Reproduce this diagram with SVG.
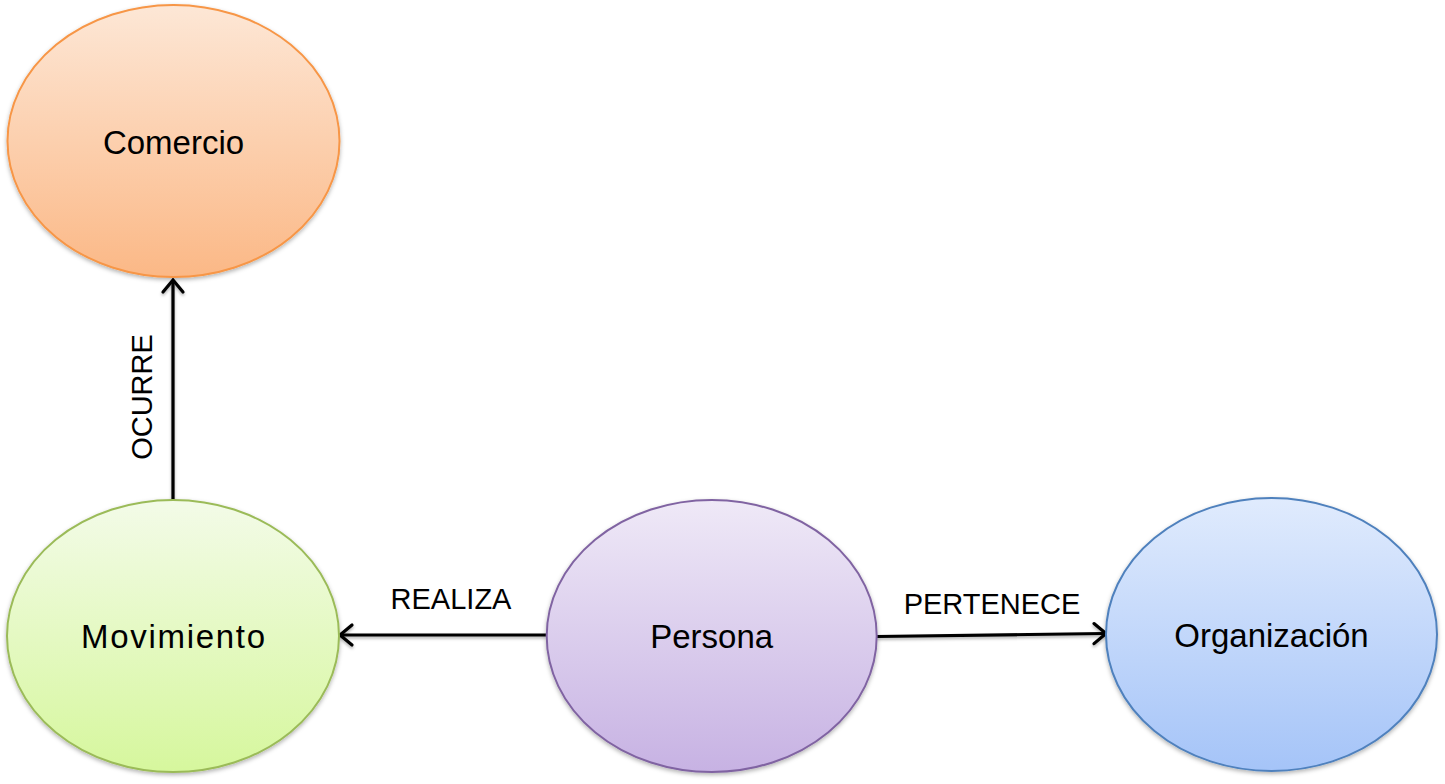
<svg xmlns="http://www.w3.org/2000/svg" width="1445" height="784" viewBox="0 0 1445 784">
<style>
.node{stroke-width:2;filter:url(#sh)}
.nt{font-family:"Liberation Sans",Arial,sans-serif;font-size:33px;fill:#000;text-anchor:middle}
.lt{font-family:"Liberation Sans",Arial,sans-serif;font-size:29px;fill:#000;text-anchor:middle}
.edge{stroke:#000;stroke-width:3.2;fill:none}
.head{stroke:#000;stroke-width:3.2;fill:none;stroke-linecap:round;stroke-linejoin:miter}
</style>
<defs>
<linearGradient id="gO" x1="0" y1="0" x2="0" y2="1"><stop offset="0" stop-color="#fde7d6"/><stop offset="1" stop-color="#fbb886"/></linearGradient>
<linearGradient id="gG" x1="0" y1="0" x2="0" y2="1"><stop offset="0" stop-color="#f3fbe8"/><stop offset="1" stop-color="#d6f79d"/></linearGradient>
<linearGradient id="gP" x1="0" y1="0" x2="0" y2="1"><stop offset="0" stop-color="#efe9f7"/><stop offset="1" stop-color="#c7b2e3"/></linearGradient>
<linearGradient id="gB" x1="0" y1="0" x2="0" y2="1"><stop offset="0" stop-color="#e0ebfd"/><stop offset="1" stop-color="#a5c4f8"/></linearGradient>
<filter id="sh" x="-10%" y="-10%" width="120%" height="125%"><feDropShadow dx="0" dy="2" stdDeviation="2" flood-color="#000" flood-opacity="0.3"/></filter>
<filter id="sh2" filterUnits="userSpaceOnUse" x="0" y="0" width="1445" height="784"><feDropShadow dx="0" dy="2" stdDeviation="1.5" flood-color="#000" flood-opacity="0.3"/></filter>
</defs>
<g id="connectors">
<g filter="url(#sh2)">
<line class="edge" x1="173" y1="500" x2="173" y2="281"/>
<path class="head" d="M163,292 L173,280 L183,292"/>
<line class="edge" x1="546" y1="635" x2="342" y2="635"/>
<path class="head" d="M352,625 L340,635 L352,645"/>
<line class="edge" x1="877" y1="636.5" x2="1104" y2="633.5"/>
<path class="head" d="M1094,623.6 L1106,633.5 L1094,643.6"/>
</g>
<text class="lt" transform="translate(152,397) rotate(-90)">OCURRE</text>
<text class="lt" x="451" y="609">REALIZA</text>
<text class="lt" x="992" y="614">PERTENECE</text>
</g>
<g id="comercio">
<ellipse class="node" cx="173.5" cy="141" rx="166" ry="136" fill="url(#gO)" stroke="#f79646"/>
<text class="nt" x="173.5" y="154">Comercio</text>
</g>
<g id="movimiento">
<ellipse class="node" cx="173" cy="636" rx="166" ry="136" fill="url(#gG)" stroke="#9bbb59"/>
<text class="nt" x="173" y="648" textLength="184" lengthAdjust="spacing">Movimiento</text>
</g>
<g id="persona">
<ellipse class="node" cx="711.7" cy="636" rx="165" ry="136" fill="url(#gP)" stroke="#8064a2"/>
<text class="nt" x="711.7" y="648">Persona</text>
</g>
<g id="organizacion">
<ellipse class="node" cx="1271.5" cy="634.5" rx="165.5" ry="136.5" fill="url(#gB)" stroke="#4f81bd"/>
<text class="nt" x="1271.5" y="647">Organización</text>
</g>
</svg>
